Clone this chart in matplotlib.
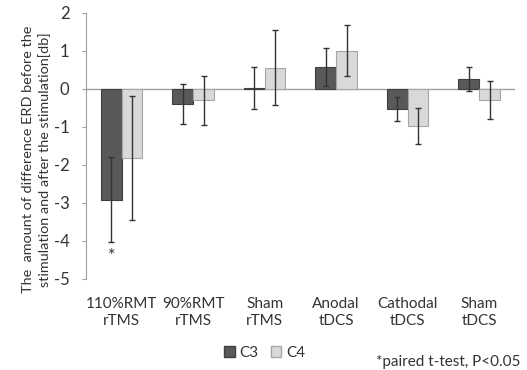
import numpy as np
import matplotlib.pyplot as plt
from matplotlib.patches import Patch

plt.rcParams['font.family'] = ['Lato', 'DejaVu Sans']

categories = ['110%RMT\nrTMS', '90%RMT\nrTMS', 'Sham\nrTMS',
              'Anodal\ntDCS', 'Cathodal\ntDCS', 'Sham\ntDCS']
c3_mean = [-2.92, -0.40, 0.03, 0.57, -0.52, 0.26]
c3_err  = [1.12, 0.53, 0.55, 0.50, 0.31, 0.31]
c4_mean = [-1.82, -0.30, 0.56, 1.00, -0.97, -0.29]
c4_err  = [1.63, 0.65, 0.98, 0.67, 0.48, 0.49]
yticks  = [-5, -4, -3, -2, -1, 0, 1, 2]

fig = plt.figure(figsize=(5.27, 3.70), dpi=100)
ax = fig.add_axes([0.1632, 0.246, 0.8138, 0.719])

x = np.arange(len(categories))
w = 0.29
err_kw = dict(ecolor='#333333', elinewidth=1.0, capsize=2.5, capthick=1.0)
ax.bar(x - w/2, c3_mean, w, yerr=c3_err, color='#595959',
       edgecolor='#404040', linewidth=0.8, error_kw=err_kw, zorder=2)
ax.bar(x + w/2, c4_mean, w, yerr=c4_err, color='#d9d9d9',
       edgecolor='#a6a6a6', linewidth=0.8, error_kw=err_kw, zorder=2)

ax.axhline(0, color='#a0a0a0', lw=1.0, zorder=1)

# significance mark
ax.text(x[0] - w/2, -4.4, '*', ha='center', va='center',
        fontsize=13, color='#333333')

ax.set_xlim(-0.5, len(categories) - 0.5)
ax.set_ylim(-5, 2)
ax.set_yticks(yticks)
ax.set_yticklabels([str(t) for t in yticks], fontsize=12, color='#333333')
ax.set_xticks(x)
ax.set_xticklabels(categories, fontsize=11, color='#333333', linespacing=1.25)
ax.tick_params(axis='x', length=0, pad=13)
ax.tick_params(axis='y', length=3, color='#a0a0a0', pad=9)

for s in ['top', 'right', 'bottom']:
    ax.spines[s].set_visible(False)
ax.spines['left'].set_color('#a0a0a0')

ax.set_ylabel('The  amount of difference ERD before the\n'
              'stimulation and after the stimulation[db]',
              fontsize=10.4, color='#333333', linespacing=1.4)
ax.yaxis.set_label_coords(-0.082, 0.45)

handles = [Patch(facecolor='#595959', edgecolor='#404040', label='C3'),
           Patch(facecolor='#d9d9d9', edgecolor='#a6a6a6', label='C4')]
fig.legend(handles=handles, loc='center', bbox_to_anchor=(0.502, 0.046),
           ncol=2, frameon=False, fontsize=11, handlelength=0.7,
           handleheight=0.7, handletextpad=0.3, columnspacing=0.8,
           labelcolor='#333333')

fig.text(0.988, 0.022, '*paired t-test, P<0.05', ha='right', va='center',
         fontsize=11, color='#333333')

fig.savefig('out.png', dpi=100)
